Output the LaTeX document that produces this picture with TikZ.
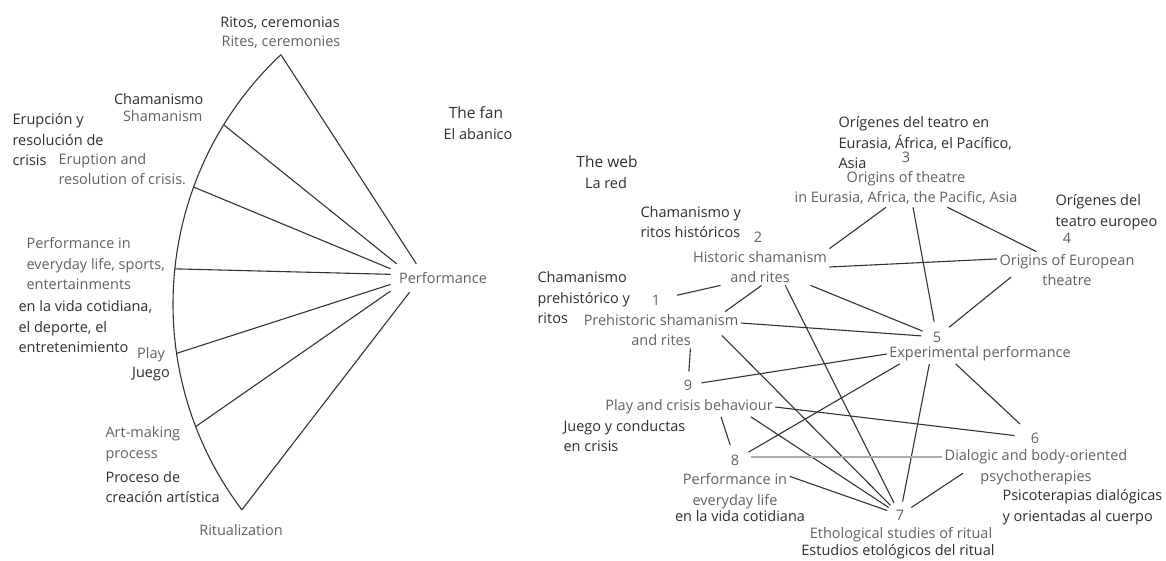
\documentclass[tikz,border=0pt]{standalone}
\usepackage{fontspec}
\setmainfont{Open Sans}
\definecolor{engray}{gray}{0.38}
\definecolor{esgray}{gray}{0.18}
\definecolor{wire}{gray}{0.2}

\begin{document}
\begin{tikzpicture}[
  x = 1pt, y = -1pt,
  line width = 1.1pt,
  color = wire,
  label/.style = {
    inner sep = 0pt,
    text = engray,
    font = \fontsize{14.5}{20.5}\selectfont,
  },
  en/.style = {label, align = center},
  es/.style = {label, text = esgray, align = left},
  title/.style = {label, text = esgray, font = \fontsize{15.5}{20.5}\selectfont},
  web/.style = {en, inner sep = 2pt},
  num/.style = {
    shape = circle,
    text = engray,
    font = \fontsize{14.5}{20.5}\selectfont,
    inner sep = 0pt,
    minimum size = 26pt,
  },
  pale/.style = {line width = 2.2pt, draw = gray!65},
]
  \useasboundingbox (0, 0) rectangle (1166, 560);

  % the fan
  \coordinate (fc) at (515, 304);
  \path (fc) ++(226.8:342) coordinate (f1);
  \path (fc) ++(211.6:342) coordinate (f2);
  \path (fc) ++(200.0:342) coordinate (f3);
  \path (fc) ++(185.9:342) coordinate (f4);
  \path (fc) ++(171.7:342) coordinate (f5);
  \path (fc) ++(159.0:342) coordinate (f6);
  \path (fc) ++(143.0:342) coordinate (f7);

  \node[es] (ritos) at (280, 23) {Ritos, ceremonias};
  \node[en] (rites) at (281, 42) {Rites, ceremonies};
  \node[es, anchor = east] (chaman) at (204, 99) {Chamanismo};
  \node[en, anchor = east] (shaman) at (203, 116) {Shamanism};
  \node[es, anchor = west] (erupcion) at (12, 140) {Erupción y\\resolución de\\crisis};
  \node[en, anchor = west, align = left] (eruption) at (58, 169) {Eruption and\\resolution of crisis.};
  \node[en, anchor = west, align = left] (everyday) at (26, 264) {Performance in\\everyday life, sports,\\entertainments};
  \node[es, anchor = west] (cotidiana) at (18, 327) {en la vida cotidiana,\\el deporte, el\\entretenimiento};
  \node[en] (play) at (151, 355) {Play};
  \node[es] (juego) at (151, 374) {Juego};
  \node[en, anchor = west, align = left] (artmaking) at (105, 444) {Art-making\\process};
  \node[es, anchor = west] (creacion) at (105, 487) {Proceso de\\creación artística};
  \node[en] (ritual) at (241, 530) {Ritualization};
  \node[en, inner sep = 8pt] (perf) at (443, 278) {Performance};
  \node[title] (fan) at (476, 113) {The fan};
  \node[es] (abanico) at (478, 134) {El abanico};

  \draw (f1) arc[start angle = 226.8, end angle = 143, radius = 342];
  \draw (f1) -- (perf.152);
  \draw (f2) -- (perf.163);
  \draw (f3) -- (perf.170);
  \draw (f4) -- (perf.176);
  \draw (f5) -- (perf.187);
  \draw (f6) -- (perf.194);
  \draw (f7) -- (perf.203);

  % the web
  \node[title] (web) at (607, 162) {The web};
  \node[es] (red) at (606, 183) {La red};

  \node[web] (w1) at (661, 330) {Prehistoric shamanism\\and rites};
  \node[num, minimum size = 42pt] (n1) at (656, 300) {1};
  \node[es, anchor = west] (s1) at (537, 298) {Chamanismo\\prehistórico y\\ritos};

  \node[web] (w2) at (760, 267) {Historic shamanism\\and rites};
  \node[num] (n2) at (758, 237) {2};
  \node[es, anchor = west] (s2) at (640, 222) {Chamanismo y\\ritos históricos};

  \node[web] (w3) at (906, 188) {Origins of theatre\\in Eurasia, Africa, the Pacific, Asia};
  \node[num] (n3) at (906, 157) {3};
  \node[es, anchor = west] (s3) at (838, 143) {Orígenes del teatro en\\Eurasia, África, el Pacífico,\\Asia};

  \node[web] (w4) at (1067, 270) {Origins of European\\theatre};
  \node[num] (n4) at (1067, 238) {4};
  \node[es, anchor = west] (s4) at (1055, 212) {Orígenes del\\teatro europeo};

  \node[web] (w5) at (980, 354) {Experimental performance};
  \node[num, minimum size = 30pt] (n5) at (937, 337) {5};

  \node[web] (w6) at (1036, 467) {Dialogic and body-oriented\\psychotherapies};
  \node[num, minimum size = 40pt] (n6) at (1035, 438) {6};
  \node[es, anchor = west] (s6) at (1002, 507) {Psicoterapias dialógicas\\y orientadas al cuerpo};

  \node[web] (w7) at (901, 535) {Ethological studies of ritual};
  \node[es] (s7) at (898, 552) {Estudios etológicos del ritual};
  \node[num] (n7) at (900, 515) {7};

  \node[web] (w8) at (735, 491) {Performance in\\everyday life};
  \node[es] (s8) at (740, 516) {en la vida cotidiana};
  \node[num, minimum size = 30pt] (n8) at (735, 460) {8};

  \node[web] (w9) at (689, 407) {Play and crisis behaviour};
  \node[num] (n9) at (688, 385) {9};
  \node[es, anchor = west] (s9) at (563, 436) {Juego y conductas\\en crisis};

  \draw (n1) -- (w2.205);
  \draw (w1.16) -- (w2.-85);
  \draw (w2.north east) -- (w3.224);
  \draw (w2.east) -- (w4.171);
  \draw (w2.-20) -- (n5);
  \draw (w2.-36) -- (n7);
  \draw (w1.5) -- (n5);
  \draw[shorten <= -18pt] (w1.-14) -- (n7);
  \draw (w1.-32) -- (n9);
  \draw (w3.-70) -- (n5);
  \draw (w3.-25) -- (w4.149);
  \draw[shorten <= -18pt] (w4.south west) -- (n5);
  \draw (n9) -- (w5.west);
  \draw (w5.187) -- (n8);
  \draw (w5.191) -- (n7);
  \draw (w5.202) -- (n6);
  \draw (w9.east) -- (n6);
  \draw (w9.-17) -- (n8);
  \draw (w9.-9) -- (n7);
  \draw[pale] (w6.174 -| n8.east) -- (w6.174);
  \draw (w8.15) -- (n7);
  \draw[shorten >= -25pt] (n7) -- (w6.south west);
\end{tikzpicture}
\end{document}
